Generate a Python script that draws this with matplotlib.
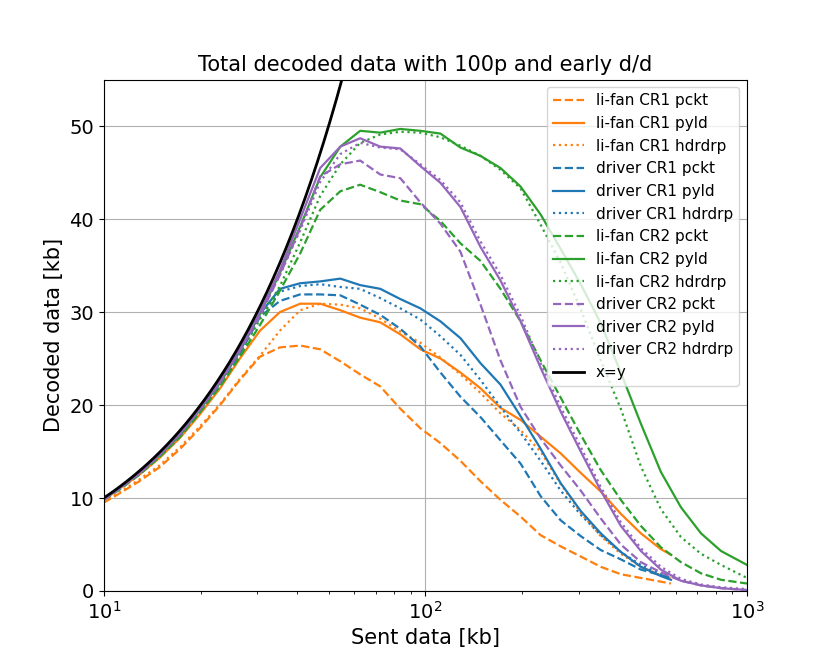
import numpy as np
import matplotlib

matplotlib.use("Agg")
import matplotlib.pyplot as plt

# sent data [kb], roughly log-spaced sample points
X = [10.0, 11.2, 12.9, 14.9, 17.3, 19.9, 23.0, 26.5, 30.6, 35.3, 40.8,
     47.1, 54.4, 62.7, 72.4, 83.6, 96.5, 111.4, 128.5, 148.4, 171.2,
     197.7, 228.2, 263.4, 304.1, 351.0, 405.1, 467.7, 539.8, 623.2,
     719.3, 830.2, 1000.0]
X_CR1 = X[:29] + [580.0]
X_CR2 = X

# CR1 runs (decoded data [kb])
lifan_cr1_pckt = [9.5, 10.5, 11.8, 13.3, 15.3, 17.5, 20.0, 22.7, 25.2, 26.2,
                  26.4, 26.0, 24.7, 23.3, 22.0, 19.6, 17.5, 15.9, 14.0, 11.8,
                  9.8, 8.0, 6.0, 4.8, 3.7, 2.6, 1.8, 1.4, 1.0, 0.8]
lifan_cr1_pyld = [9.8, 11.0, 12.5, 14.3, 16.5, 19.0, 21.8, 25.0, 28.0, 30.0,
                  30.9, 30.9, 30.2, 29.4, 28.9, 27.6, 26.0, 25.0, 23.5, 21.8,
                  19.7, 18.4, 16.6, 14.8, 12.7, 10.7, 8.3, 6.2, 4.5, 3.9]
lifan_cr1_hdrdrp = [9.6, 10.6, 12.0, 13.5, 15.5, 17.7, 20.1, 22.8, 25.3, 28.0,
                    30.2, 30.9, 30.8, 30.4, 29.3, 27.9, 26.7, 25.1, 23.3, 21.3,
                    19.1, 17.3, 15.0, 11.5, 8.4, 5.9, 4.0, 2.6, 1.7, 1.4]
driver_cr1_pckt = [9.8, 11.0, 12.6, 14.5, 16.7, 19.3, 22.2, 25.5, 29.5, 31.2,
                   31.9, 31.9, 31.8, 30.8, 29.7, 28.2, 26.3, 23.5, 20.9, 18.7,
                   16.2, 13.7, 10.2, 7.6, 5.9, 4.4, 3.4, 2.3, 1.7, 1.4]
driver_cr1_pyld = [9.9, 11.1, 12.7, 14.6, 16.8, 19.5, 22.4, 25.8, 29.8, 32.5,
                   33.1, 33.3, 33.6, 32.9, 32.5, 31.4, 30.4, 29.0, 27.2, 24.5,
                   22.2, 18.8, 15.3, 11.6, 8.6, 6.2, 4.2, 2.6, 1.6, 1.2]
driver_cr1_hdrdrp = [9.9, 11.0, 12.7, 14.6, 16.8, 19.4, 22.3, 25.7, 29.5, 32.2,
                     32.8, 33.0, 32.7, 32.5, 31.5, 30.4, 29.2, 27.4, 25.4, 22.7,
                     19.8, 17.0, 14.0, 10.8, 8.2, 6.0, 4.2, 2.8, 1.8, 1.4]

# CR2 runs
lifan_cr2_pckt = [9.8, 10.9, 12.5, 14.4, 16.6, 19.2, 22.0, 25.2, 28.6, 32.3,
                  36.3, 41.0, 43.0, 43.7, 42.9, 42.0, 41.6, 39.8, 37.4, 35.5,
                  32.5, 29.0, 24.8, 20.8, 16.8, 13.0, 9.8, 7.0, 4.7, 3.1,
                  1.9, 1.2, 0.8]
lifan_cr2_pyld = [9.9, 11.1, 12.7, 14.6, 16.9, 19.5, 22.5, 26.0, 29.8, 34.2,
                  39.2, 44.5, 47.8, 49.5, 49.3, 49.7, 49.5, 49.2, 47.7, 46.8,
                  45.5, 43.5, 40.5, 36.8, 33.0, 28.8, 23.5, 18.0, 12.8, 9.0,
                  6.2, 4.3, 2.8]
lifan_cr2_hdrdrp = [9.8, 11.0, 12.6, 14.5, 16.7, 19.3, 22.2, 25.5, 29.2, 32.8,
                    37.5, 42.5, 45.9, 48.2, 49.1, 49.4, 49.3, 48.8, 47.9, 46.8,
                    45.3, 43.3, 39.4, 35.3, 30.3, 24.8, 19.6, 13.4, 8.8, 5.8,
                    4.0, 2.8, 1.4]
driver_cr2_pckt = [9.8, 11.0, 12.6, 14.6, 16.9, 19.5, 22.4, 25.8, 29.6, 34.0,
                   39.0, 44.6, 45.9, 46.3, 44.8, 44.4, 41.8, 39.5, 36.5, 30.8,
                   24.8, 19.8, 16.4, 13.5, 10.8, 7.8, 5.0, 3.1, 2.0, 1.1,
                   0.6, 0.3, 0.1]
driver_cr2_pyld = [9.9, 11.1, 12.7, 14.7, 17.0, 19.6, 22.6, 26.1, 30.0, 34.5,
                   40.0, 45.5, 47.8, 48.7, 47.8, 47.6, 45.7, 43.9, 41.3, 37.0,
                   33.4, 29.0, 24.0, 19.3, 15.0, 10.8, 7.0, 4.3, 2.3, 1.1,
                   0.6, 0.3, 0.1]
driver_cr2_hdrdrp = [9.9, 11.1, 12.7, 14.7, 17.0, 19.6, 22.6, 26.0, 29.8, 34.0,
                     38.8, 44.0, 47.0, 48.2, 47.7, 47.5, 45.9, 44.2, 41.8, 37.6,
                     34.0, 29.6, 24.5, 19.8, 15.5, 11.2, 7.4, 4.6, 2.6, 1.3,
                     0.7, 0.4, 0.2]

SERIES = [
    ("li-fan CR1 pckt", X_CR1, lifan_cr1_pckt, "C1", "--"),
    ("li-fan CR1 pyld", X_CR1, lifan_cr1_pyld, "C1", "-"),
    ("li-fan CR1 hdrdrp", X_CR1, lifan_cr1_hdrdrp, "C1", ":"),
    ("driver CR1 pckt", X_CR1, driver_cr1_pckt, "C0", "--"),
    ("driver CR1 pyld", X_CR1, driver_cr1_pyld, "C0", "-"),
    ("driver CR1 hdrdrp", X_CR1, driver_cr1_hdrdrp, "C0", ":"),
    ("li-fan CR2 pckt", X_CR2, lifan_cr2_pckt, "C2", "--"),
    ("li-fan CR2 pyld", X_CR2, lifan_cr2_pyld, "C2", "-"),
    ("li-fan CR2 hdrdrp", X_CR2, lifan_cr2_hdrdrp, "C2", ":"),
    ("driver CR2 pckt", X_CR2, driver_cr2_pckt, "C4", "--"),
    ("driver CR2 pyld", X_CR2, driver_cr2_pyld, "C4", "-"),
    ("driver CR2 hdrdrp", X_CR2, driver_cr2_hdrdrp, "C4", ":"),
]


def main() -> None:
    fig, ax = plt.subplots(figsize=(8.3, 6.64), dpi=100)

    for label, xs, ys, color, style in SERIES:
        ax.plot(xs, ys, linestyle=style, color=color, linewidth=1.6, label=label)

    # reference line: decoded == sent
    ref = np.geomspace(10, 60, 200)
    ax.plot(ref, ref, color="black", linewidth=2, label="x=y")

    ax.set_xscale("log")
    ax.set_xlim(10, 1000)
    ax.set_ylim(0, 55)
    ax.grid(True)
    ax.tick_params(labelsize=14)
    ax.set_xlabel("Sent data [kb]", fontsize=15)
    ax.set_ylabel("Decoded data [kb]", fontsize=15)
    ax.set_title("Total decoded data with 100p and early d/d", fontsize=15)
    ax.legend(loc="upper right", fontsize=11)

    fig.savefig("out.png", dpi=100)
    plt.close(fig)


if __name__ == "__main__":
    main()
